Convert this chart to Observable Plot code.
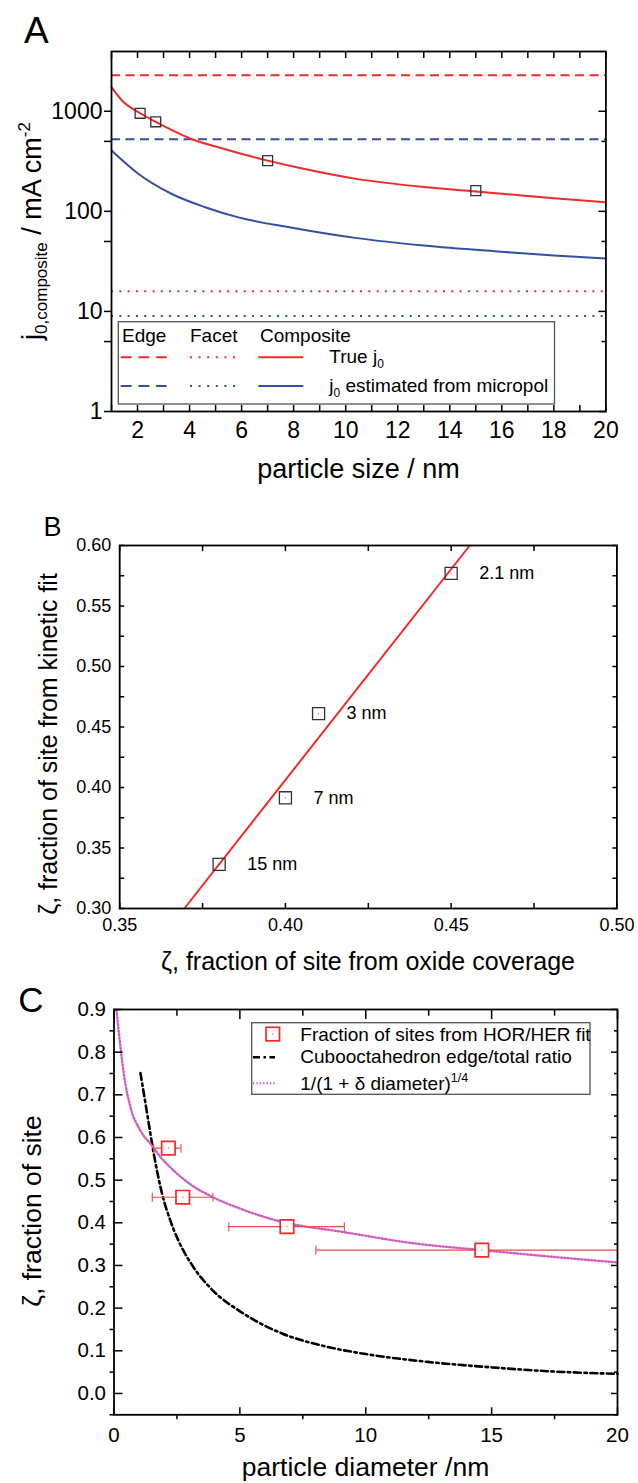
<!DOCTYPE html>
<html><head><meta charset="utf-8">
<script src="https://cdn.jsdelivr.net/npm/d3@7"></script>
<script src="https://cdn.jsdelivr.net/npm/@observablehq/plot@0.6"></script>
<style>
body{margin:0;background:#fff;}
#wrap{position:relative;width:638px;height:1483px;overflow:hidden;background:#fff;}
#wrap svg{position:absolute;left:0;}
</style></head><body><div id="wrap"></div>
<script>
// ---------- Panel A data ----------
const sizeRed = [1, 1.4, 2.1, 2.7, 3.3, 4.1, 5.2, 7, 8.2, 10.4, 13, 15, 16, 18, 20];
const trueJ0 = [1740, 1280, 955, 785, 652, 525, 430, 321, 272, 211, 175, 158, 150, 135, 123];
const sizeBlue = [1, 2.04, 3.32, 4.6, 5.88, 7.88, 10.44, 13, 15.96, 18, 20];
const estJ0 = [405, 236, 149, 110, 87, 69, 54, 45.5, 39.5, 36.2, 33.7];
const sizeMeas = [2.1, 2.7, 7, 15];
const j0Meas = [955, 785, 321, 161];
const edgeTrue = [2290], facetTrue = [15.9], edgeEst = [525], facetEst = [9.0];
const yTicksA = [1, 10, 100, 1000];
const yMinorA = [5, 50, 500];
const xTicksA = [2, 4, 6, 8, 10, 12, 14, 16, 18, 20];
const xMinorA = [1, 3, 5, 7, 9, 11, 13, 15, 17, 19];

// ---------- Panel B data ----------
const oxideZeta = [0.45, 0.41, 0.40, 0.38];
const kineticZeta = [0.577, 0.461, 0.3915, 0.3365];
const sizeLabels = ["2.1 nm", "3 nm", "7 nm", "15 nm"];
const fitOxide = [0.3695, 0.4556];
const fitKinetic = [0.30, 0.60];
const xTicksB = [0.35, 0.40, 0.45, 0.50];
const xMinorB = [0.375, 0.425, 0.475];
const yTicksB = [0.30, 0.35, 0.40, 0.45, 0.50, 0.55, 0.60];
const yMinorB = [0.325, 0.375, 0.425, 0.475, 0.525, 0.575];

// ---------- Panel C data ----------
const diam = [2.16, 2.73, 6.87, 14.61];
const zetaFit = [0.575, 0.46, 0.391, 0.336];
const diamLo = [1.58, 1.52, 4.56, 8.02];
const diamHi = [2.66, 3.93, 9.15, 21.2];
const cuboD = [1.05, 1.32, 1.58, 1.91, 2.24, 2.53, 3.09, 3.9, 5.02, 6.7, 8.42, 10.04, 12.46, 15.04, 17.3, 20];
const cuboZeta = [0.751, 0.655, 0.562, 0.468, 0.405, 0.362, 0.302, 0.243, 0.192, 0.140, 0.110, 0.092, 0.074, 0.061, 0.052, 0.046];
const powD = [0.1, 0.28, 0.39, 0.655, 1.05, 1.45, 1.85, 2.38, 3.04, 3.93, 5.02, 6.55, 9.15, 11.9, 14.61, 17.47, 20];
const powZeta = [0.898, 0.80, 0.749, 0.671, 0.616, 0.585, 0.554, 0.522, 0.49, 0.46, 0.433, 0.404, 0.378, 0.352, 0.336, 0.32, 0.307];
const xTicksC = [0, 5, 10, 15, 20];
const xMinorC = [2.5, 7.5, 12.5, 17.5];
const yTicksC = [0, 0.1, 0.2, 0.3, 0.4, 0.5, 0.6, 0.7, 0.8, 0.9];
const yMinorC = [-0.05, 0.05, 0.15, 0.25, 0.35, 0.45, 0.55, 0.65, 0.75, 0.85];

// ---------- styles ----------
const FONT = '"Liberation Sans", Arial, Helvetica, sans-serif';
const RED = "#f22a2a", BLUE = "#3450a5", MAG = "#d35cbc", SQ = "#333333", ERR = "#f04848";
const DASHDOT = "7,3.5,2.5,3.5", DOTS = "1.2,2.2";
const zip = (xs, ys, kx = "x", ky = "y") => xs.map((v, i) => ({[kx]: v, [ky]: ys[i]}));
const none = () => "";
const tx = (anchor, ticks, size, sw = 1.5) => Plot.axisX({anchor, ticks, tickSize: size, tickFormat: none, label: null, strokeWidth: sw});
const ty = (anchor, ticks, size, sw = 1.5) => Plot.axisY({anchor, ticks, tickSize: size, tickFormat: none, label: null, strokeWidth: sw});
const lx = (ticks, pad, fmt, fs) => Plot.axisX({anchor: "bottom", ticks, tickSize: 0, tickPadding: pad, tickFormat: fmt, fontSize: fs, label: null});
const ly = (ticks, pad, fmt, fs) => Plot.axisY({anchor: "left", ticks, tickSize: 0, tickPadding: pad, tickFormat: fmt, fontSize: fs, label: null});
const baseStyle = {fontFamily: FONT, color: "black", background: "transparent", overflow: "visible"};
const wrap = document.getElementById("wrap");
function place(svg, top) { svg.style.top = top + "px"; wrap.appendChild(svg); return d3.select(svg); }
function txt(sel, x, y, s, fs, anchor = "start") {
  return sel.append("text").attr("x", x).attr("y", y).attr("font-family", FONT).attr("font-size", fs)
    .attr("text-anchor", anchor).attr("fill", "black").text(s);
}
const squareCap = {draw(ctx, size) { const h = Math.sqrt(size) / 2; ctx.moveTo(0, -h); ctx.lineTo(0, h); }};

// ================= Panel A =================
const redCurve = zip(sizeRed, trueJ0);
const blueCurve = zip(sizeBlue, estJ0);
const measA = zip(sizeMeas, j0Meas);
const plotA = Plot.plot({
  width: 638, height: 490, marginTop: 51, marginBottom: 79, marginLeft: 111, marginRight: 32.6,
  x: {domain: [1, 20]},
  y: {type: "log", domain: [1, 3955]},
  style: baseStyle,
  marks: [
    Plot.ruleY(edgeTrue, {stroke: RED, strokeWidth: 2, strokeDasharray: "9,5.5"}),
    Plot.ruleY(edgeEst, {stroke: BLUE, strokeWidth: 2, strokeDasharray: "9,5.5"}),
    Plot.ruleY(facetTrue, {stroke: RED, strokeWidth: 2, strokeDasharray: "2,6.3"}),
    Plot.ruleY(facetEst, {stroke: BLUE, strokeWidth: 2, strokeDasharray: "2,6.3"}),
    Plot.line(redCurve, {x: "x", y: "y", stroke: RED, strokeWidth: 2, curve: "monotone-x"}),
    Plot.line(blueCurve, {x: "x", y: "y", stroke: BLUE, strokeWidth: 2, curve: "monotone-x"}),
    Plot.dot(measA, {x: "x", y: "y", symbol: "square", r: 5.6, stroke: SQ, strokeWidth: 1.3, fill: "none"}),
    Plot.dot(measA, {x: "x", y: "y", r: 0.5, fill: SQ}),
    Plot.frame({stroke: "black", strokeWidth: 1.8}),
    tx("bottom", xTicksA, -6), tx("bottom", xMinorA, -6),
    tx("top", xTicksA, -6), tx("top", xMinorA, -6),
    ty("left", yTicksA, 7), ty("left", yMinorA, 7),
    ty("right", yTicksA, -8), ty("right", yMinorA, -5),
    lx(xTicksA, 10, d3.format("d"), 23),
    ly(yTicksA, 9, d3.format("d"), 23)
  ]
});
const sA = place(plotA, 0);
txt(sA, 24, 43.3, "A", 37);
txt(sA, 358.5, 478, "particle size / nm", 27, "middle");
{
  const t = sA.append("text").attr("transform", "translate(41,231) rotate(-90)").attr("text-anchor", "middle")
    .attr("font-family", FONT).attr("font-size", 27).attr("fill", "black");
  t.append("tspan").text("j");
  t.append("tspan").attr("font-size", 17).attr("dy", 6).text("0,composite");
  t.append("tspan").attr("dy", -6).text(" / mA cm");
  t.append("tspan").attr("font-size", 17).attr("dy", -11).text("-2");
  // legend
  const g = sA.append("g");
  g.append("rect").attr("x", 118.3).attr("y", 321.7).attr("width", 436.2).attr("height", 82.3)
    .attr("fill", "white").attr("stroke", "#555").attr("stroke-width", 1.3);
  txt(g, 122, 341.7, "Edge", 19); txt(g, 190, 341.7, "Facet", 19); txt(g, 260, 341.7, "Composite", 19);
  const rows = [[357.3, RED], [386, BLUE]];
  for (const [yy, c] of rows) {
    g.append("line").attr("x1", 120.7).attr("x2", 166.7).attr("y1", yy).attr("y2", yy).attr("stroke", c).attr("stroke-width", 2).attr("stroke-dasharray", "11,6.7");
    g.append("line").attr("x1", 190).attr("x2", 236).attr("y1", yy).attr("y2", yy).attr("stroke", c).attr("stroke-width", 2).attr("stroke-dasharray", "2,6.6");
    g.append("line").attr("x1", 258.3).attr("x2", 303.3).attr("y1", yy).attr("y2", yy).attr("stroke", c).attr("stroke-width", 2);
  }
  const l1 = txt(g, 329.3, 363.3, "", 19); l1.append("tspan").text("True j"); l1.append("tspan").attr("font-size", 12).attr("dy", 5).text("0");
  const l2 = txt(g, 329.3, 391.7, "", 19); l2.append("tspan").text("j"); l2.append("tspan").attr("font-size", 12).attr("dy", 5).text("0");
  l2.append("tspan").attr("dy", -5).text(" estimated from micropol");
}

// ================= Panel B =================
const ptsB = oxideZeta.map((v, i) => ({x: v, y: kineticZeta[i], label: sizeLabels[i]}));
const fitB = zip(fitOxide, fitKinetic);
const plotB = Plot.plot({
  width: 638, height: 485, marginTop: 55, marginBottom: 67, marginLeft: 119.2, marginRight: 21.6,
  x: {domain: [0.35, 0.50]},
  y: {domain: [0.30, 0.60]},
  style: baseStyle,
  marks: [
    Plot.line(fitB, {x: "x", y: "y", stroke: RED, strokeWidth: 2}),
    Plot.dot(ptsB, {x: "x", y: "y", symbol: "square", r: 6.8, stroke: SQ, strokeWidth: 1.3, fill: "none"}),
    Plot.dot(ptsB, {x: "x", y: "y", r: 0.5, fill: SQ}),
    Plot.text(ptsB, {x: "x", y: "y", text: "label", dx: 28, textAnchor: "start", fontSize: 18}),
    Plot.frame({stroke: "black", strokeWidth: 1.8}),
    tx("bottom", xTicksB, -5), tx("bottom", xMinorB, -5),
    tx("top", xTicksB, -5), tx("top", xMinorB, -5),
    ty("left", yTicksB, -5), ty("left", yMinorB, -5),
    ty("right", yTicksB, -5), ty("right", yMinorB, -5),
    lx(xTicksB, 10, d3.format(".2f"), 18),
    ly(yTicksB, 8.5, d3.format(".2f"), 18)
  ]
});
const sB = place(plotB, 490);
txt(sB, 43.5, 46, "B", 27);
txt(sB, 368, 480, "ζ, fraction of site from oxide coverage", 25, "middle");
sB.append("text").attr("transform", "translate(57,254) rotate(-90)").attr("text-anchor", "middle")
  .attr("font-family", FONT).attr("font-size", 25).attr("fill", "black").text("ζ, fraction of site from kinetic fit");

// ================= Panel C =================
const ptsC = diam.map((v, i) => ({x: v, y: zetaFit[i], lo: diamLo[i], hi: diamHi[i]}));
const cubo = zip(cuboD, cuboZeta);
const pow = zip(powD, powZeta);
const plotC = Plot.plot({
  width: 638, height: 508, marginTop: 34, marginBottom: 68.7, marginLeft: 113.5, marginRight: 21,
  x: {domain: [0, 20]},
  y: {domain: [-0.05, 0.9]},
  style: baseStyle,
  marks: [
    Plot.line(cubo, {x: "x", y: "y", stroke: "black", strokeWidth: 2.6, strokeDasharray: DASHDOT, curve: "monotone-x"}),
    Plot.line(pow, {x: "x", y: "y", stroke: MAG, strokeWidth: 2.4, strokeDasharray: DOTS, curve: "monotone-x", clip: true}),
    Plot.ruleY(ptsC, {y: "y", x1: "lo", x2: "hi", stroke: ERR, strokeWidth: 1.1, clip: true}),
    Plot.dot(ptsC, {x: "lo", y: "y", symbol: squareCap, r: 5.1, stroke: ERR, strokeWidth: 1.1, clip: true}),
    Plot.dot(ptsC, {x: "hi", y: "y", symbol: squareCap, r: 5.1, stroke: ERR, strokeWidth: 1.1, clip: true}),
    Plot.dot(ptsC, {x: "x", y: "y", symbol: "square", r: 7.6, stroke: RED, strokeWidth: 1.7, fill: "white"}),
    Plot.dot(ptsC, {x: "x", y: "y", r: 0.6, fill: RED}),
    Plot.frame({stroke: "black", strokeWidth: 1.8}),
    tx("bottom", xTicksC, -7), tx("bottom", xMinorC, 5),
    tx("top", xTicksC, -9), tx("top", xMinorC, -5.7),
    ty("left", yTicksC, -9), ty("left", yMinorC, 4),
    ty("right", yTicksC, -7), ty("right", yMinorC, -4),
    lx(xTicksC, 12.4, d3.format("d"), 20.5),
    ly(yTicksC, 8, d3.format(".1f"), 20.5)
  ]
});
const sC = place(plotC, 975);
txt(sC, 18.3, 36.5, "C", 35);
txt(sC, 365.5, 501, "particle diameter /nm", 26.5, "middle");
sC.append("text").attr("transform", "translate(41,236) rotate(-90)").attr("text-anchor", "middle")
  .attr("font-family", FONT).attr("font-size", 26.5).attr("fill", "black").text("ζ, fraction of site");
{
  const g = sC.append("g");
  g.append("rect").attr("x", 251.7).attr("y", 47.7).attr("width", 338.3).attr("height", 71.6)
    .attr("fill", "white").attr("stroke", "#555").attr("stroke-width", 1.3);
  g.append("rect").attr("x", 266).attr("y", 52.3).attr("width", 13.5).attr("height", 13.5)
    .attr("fill", "white").attr("stroke", RED).attr("stroke-width", 1.7);
  g.append("circle").attr("cx", 272.7).attr("cy", 59).attr("r", 0.6).attr("fill", RED);
  g.append("line").attr("x1", 253).attr("x2", 275).attr("y1", 82.3).attr("y2", 82.3).attr("stroke", "black").attr("stroke-width", 2.6).attr("stroke-dasharray", DASHDOT);
  g.append("line").attr("x1", 253).attr("x2", 275).attr("y1", 108.3).attr("y2", 108.3).attr("stroke", MAG).attr("stroke-width", 2.4).attr("stroke-dasharray", DOTS);
  txt(g, 300.3, 65.7, "Fraction of sites from HOR/HER fit", 19);
  txt(g, 300.3, 88.3, "Cubooctahedron edge/total ratio", 19);
  const t3 = txt(g, 300.3, 115, "", 19);
  t3.append("tspan").text("1/(1 + δ diameter)");
  t3.append("tspan").attr("font-size", 12.5).attr("dy", -8).text("1/4");
}
</script></body></html>
